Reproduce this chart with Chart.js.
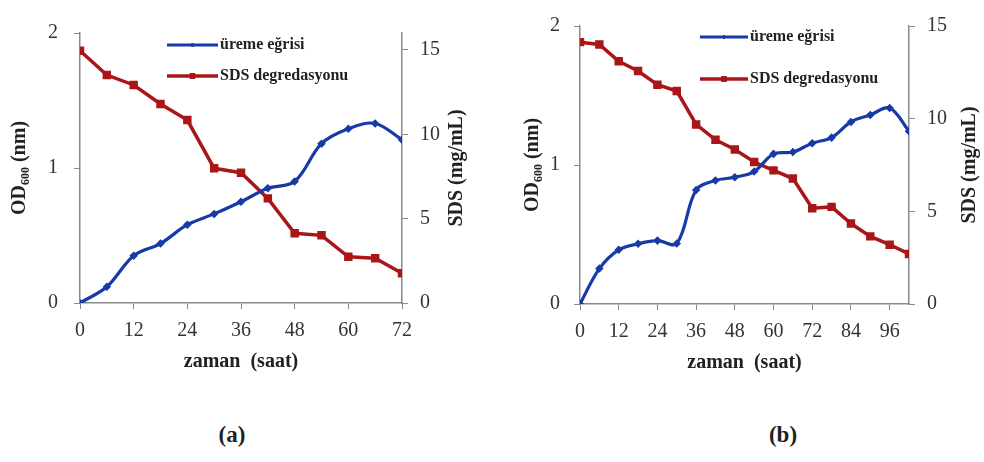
<!DOCTYPE html>
<html lang="tr">
<head>
<meta charset="UTF-8">
<title>Üreme eğrisi ve SDS degredasyonu</title>
<script src="https://cdn.jsdelivr.net/npm/chart.js"></script>
<style>
  body {
    margin: 0; background: #fff;
    width: 984px; height: 462px; position: relative; overflow: hidden;
    font-family: 'Liberation Serif', 'Times New Roman', serif;
  }
  .panel { position: absolute; top: 0; height: 380px; }
  #panelA { left: 0; width: 470px; }
  #panelB { left: 490px; width: 494px; }
  .caption {
    position: absolute; top: 422px; transform: translateX(-50%);
    font-size: 23px; font-weight: bold; color: #222;
  }
</style>
</head>
<body>
<div class="panel" id="panelA"><canvas id="chartA"></canvas></div>
<div class="panel" id="panelB"><canvas id="chartB"></canvas></div>
<div class="caption" style="left:232px">(a)</div>
<div class="caption" style="left:783px">(b)</div>

<script>
// (a)
const hoursA = [0, 6, 12, 18, 24, 30, 36, 42, 48, 54, 60, 66, 72];
const odA    = [0, 0.12, 0.35, 0.44, 0.58, 0.66, 0.75, 0.85, 0.90, 1.18, 1.29, 1.33, 1.21];
const sdsA   = [14.95, 13.51, 12.92, 11.79, 10.84, 7.98, 7.72, 6.20, 4.13, 4.01, 2.74, 2.65, 1.76];
const xTicksA = [0, 12, 24, 36, 48, 60, 72];
const sdsTicksA = [0, 5, 10, 15];

// (b)
const hoursB = [0, 6, 12, 18, 24, 30, 36, 42, 48, 54, 60, 66, 72, 78, 84, 90, 96, 102];
const odB    = [0, 0.255, 0.39, 0.433, 0.456, 0.435, 0.82, 0.889, 0.912, 0.953, 1.08, 1.093, 1.157, 1.197, 1.31, 1.36, 1.41, 1.243];
const sdsB   = [14.13, 14.0, 13.1, 12.57, 11.83, 11.49, 9.69, 8.86, 8.34, 7.66, 7.21, 6.77, 5.17, 5.24, 4.34, 3.65, 3.2, 2.7];
const xTicksB = [0, 12, 24, 36, 48, 60, 72, 84, 96];
const sdsTicksB = [0, 5, 10, 15];

const odTicks = [0, 1, 2];
const labelOD = 'üreme eğrisi';
const labelSDS = 'SDS degredasyonu';

const BLUE = 'rgb(24, 58, 168)';
const RED = 'rgb(170, 22, 24)';
const AXIS = '#8a8a8a';
const SERIF = "'Liberation Serif', 'Times New Roman', serif";

Chart.defaults.font.family = SERIF;
Chart.defaults.color = '#333';

// legend drawn inside the plot, Excel style
const inlineLegend = {
  id: 'inlineLegend',
  afterDatasetsDraw(chart, args, opts) {
    const ctx = chart.ctx;
    ctx.save();
    chart.data.datasets.forEach((ds, i) => {
      const y = opts.y + i * opts.gap;
      ctx.strokeStyle = ds.borderColor;
      ctx.lineWidth = ds.borderWidth;
      ctx.beginPath();
      ctx.moveTo(opts.x, y);
      ctx.lineTo(opts.x + opts.len, y);
      ctx.stroke();
      ctx.fillStyle = ds.pointBackgroundColor;
      ctx.lineWidth = 1;
      Chart.helpers.drawPoint(ctx, { pointStyle: ds.pointStyle, radius: ds.pointRadius, borderWidth: 1, rotation: 0 },
        opts.x + opts.len / 2, y);
      ctx.fillStyle = '#222';
      ctx.font = 'bold 16px ' + SERIF;
      ctx.textBaseline = 'middle';
      ctx.textAlign = 'left';
      ctx.fillText(ds.label, opts.x + opts.len + 2, y);
    });
    ctx.restore();
  }
};

// right axis title reads bottom to top
const rightTitle = {
  id: 'rightTitle',
  afterDraw(chart, args, opts) {
    const ctx = chart.ctx, s = chart.scales.y1, a = chart.chartArea;
    ctx.save();
    ctx.translate(s.right - opts.offset, (a.top + a.bottom) / 2);
    ctx.rotate(-Math.PI / 2);
    ctx.font = 'bold 20px ' + SERIF;
    ctx.fillStyle = '#222';
    ctx.textAlign = 'center';
    ctx.textBaseline = 'middle';
    ctx.fillText(opts.text, 0, 0);
    ctx.restore();
  }
};

function setTicks(values) {
  return function (scale) { scale.ticks = values.map(v => ({ value: v })); };
}

function makeChart(id, hours, od, sds, xTicks, sdsTicks, c) {
  const grid = { drawOnChartArea: false, drawTicks: true, tickLength: 6, color: AXIS, lineWidth: 1 };
  const border = { color: AXIS, width: 1.5 };
  return new Chart(document.getElementById(id), {
    type: 'line',
    data: {
      datasets: [{
        label: labelOD,
        data: hours.map((h, i) => ({ x: h, y: od[i] })),
        yAxisID: 'y',
        borderColor: BLUE, borderWidth: 3.2,
        pointStyle: 'rectRot', pointRadius: 2,
        pointBackgroundColor: BLUE, pointBorderColor: BLUE,
        tension: 0.35
      }, {
        label: labelSDS,
        data: hours.map((h, i) => ({ x: h, y: sds[i] })),
        yAxisID: 'y1',
        borderColor: RED, borderWidth: 3.5,
        pointStyle: 'rect', pointRadius: 3.5,
        pointBackgroundColor: RED, pointBorderColor: RED,
        tension: 0
      }]
    },
    options: {
      responsive: true, maintainAspectRatio: false, animation: false,
      layout: { padding: { top: c.top, left: 0, right: 0, bottom: 0 } },
      plugins: {
        legend: { display: false },
        tooltip: { enabled: false },
        inlineLegend: c.legend,
        rightTitle: { text: 'SDS (mg/mL)', offset: c.rightTitleOffset }
      },
      scales: {
        x: {
          type: 'linear', min: 0, max: c.xMax,
          afterBuildTicks: setTicks(xTicks),
          afterFit: s => { s.height = c.xHeight; },
          grid, border,
          ticks: { padding: 10, font: { size: 20 }, color: '#333' },
          title: { display: true, text: 'zaman  (saat)', font: { size: 20, weight: 'bold' }, color: '#222',
                   padding: { top: 0, bottom: c.xTitlePad } }
        },
        y: {
          position: 'left', min: 0, max: 2,
          afterBuildTicks: setTicks(odTicks),
          afterFit: s => { s.width = c.leftWidth; },
          grid, border,
          ticks: { padding: c.leftTickPad, font: { size: 20 }, color: '#333' },
          title: { display: true, text: 'OD₆₀₀ (nm)', font: { size: 20, weight: 'bold' }, color: '#222',
                   padding: { top: c.leftTitlePad, bottom: 0 } }
        },
        y1: {
          position: 'right', min: 0, max: c.sdsMax,
          afterBuildTicks: setTicks(sdsTicks),
          afterFit: s => { s.width = c.rightWidth; },
          grid, border,
          ticks: { padding: 12, font: { size: 20 }, color: '#333' }
        }
      }
    },
    plugins: [inlineLegend, rightTitle]
  });
}

makeChart('chartA', hoursA, odA, sdsA, xTicksA, sdsTicksA, {
  top: 33, xMax: 72, sdsMax: 16,
  xHeight: 77, leftWidth: 80, rightWidth: 68,
  xTitlePad: 6, leftTitlePad: 8, leftTickPad: 16, rightTitleOffset: 13,
  legend: { x: 167, y: 45, gap: 31, len: 51 }
});

makeChart('chartB', hoursB, odB, sdsB, xTicksB, sdsTicksB, {
  top: 15, xMax: 102, sdsMax: 15,
  xHeight: 76, leftWidth: 90, rightWidth: 75,
  xTitlePad: 5, leftTitlePad: 31, leftTickPad: 14, rightTitleOffset: 14,
  legend: { x: 210, y: 37, gap: 42, len: 48 }
});
</script>
</body>
</html>
